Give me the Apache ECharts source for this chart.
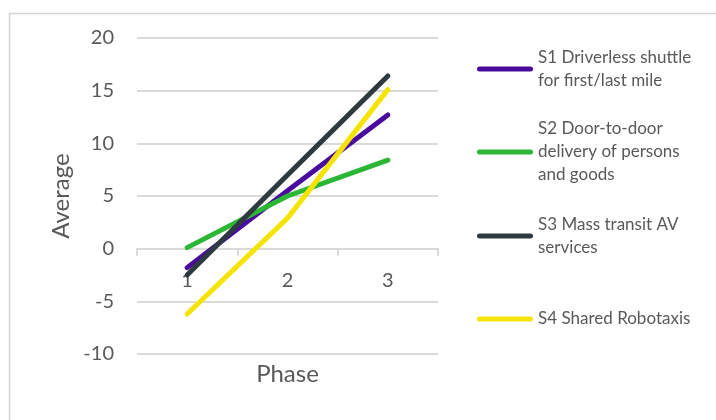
<!DOCTYPE html>
<html>
<head>
<meta charset="utf-8">
<style>
  html, body { margin: 0; padding: 0; background: #ffffff; }
  #chart { width: 716px; height: 420px; }
</style>
<script src="https://cdn.jsdelivr.net/npm/echarts@6/dist/echarts.min.js"></script>
</head>
<body>
<div id="chart"></div>
<script>
// Phase categories on the x axis
const phases = ['1', '2', '3'];

// Average score per phase for each scenario
const s1Values = [-1.8, 5.5, 12.7];
const s2Values = [0.1, 5.0, 8.4];
const s3Values = [-2.5, 7.0, 16.4];
const s4Values = [-6.2, 2.9, 15.1];

// Scenario names and their wrapped legend lines
const seriesNames = [
  'S1 Driverless shuttle for first/last mile',
  'S2 Door-to-door delivery of persons and goods',
  'S3 Mass transit AV services',
  'S4 Shared Robotaxis'
];
const legendLines = [
  ['S1 Driverless shuttle', 'for first/last mile'],
  ['S2 Door-to-door', 'delivery of persons', 'and goods'],
  ['S3 Mass transit AV', 'services'],
  ['S4 Shared Robotaxis']
];

// Value axis ticks
const yMin = -10, yMax = 20, yStep = 5;

const colors = ['#4a0a9e', '#2cb636', '#2f3a40', '#f5e400'];
const allValues = [s1Values, s2Values, s3Values, s4Values];

const FONT = 'Lato, "Open Sans", sans-serif';
const TEXT_COLOR = '#595959';
const GRID_COLOR = '#dadada';
const LINE_H = 23;

// Plot box
const GRID_TOP = 38, GRID_BOTTOM = 66, CHART_H = 420;
const plotH = CHART_H - GRID_TOP - GRID_BOTTOM;
// The category axis sits on the zero line of the value axis
const zeroOffset = -plotH * (0 - yMin) / (yMax - yMin);

// Legend icon centres (first text line) for each entry
const legendCentres = [69, 152, 236, 319];

const legends = seriesNames.map((name, i) => {
  const n = legendLines[i].length;
  const padTop = (n - 1) * LINE_H;
  const boxH = (2 * n - 1) * LINE_H;
  return {
    data: [name],
    orient: 'vertical',
    left: 477,
    top: legendCentres[i] - boxH / 2,
    padding: 0,
    itemWidth: 56,
    itemHeight: 5,
    icon: 'path://M2.5,0 L53.5,0 A2.5,2.5 0 0 1 53.5,5 L2.5,5 A2.5,2.5 0 0 1 2.5,0 Z',
    formatter: () => legendLines[i].join('\n'),
    textStyle: {
      color: TEXT_COLOR,
      fontFamily: FONT,
      fontSize: 17,
      lineHeight: LINE_H,
      padding: [padTop, 0, 0, 0]
    },
    selectedMode: false
  };
});

const chart = echarts.init(document.getElementById('chart'), null, { renderer: 'canvas' });

chart.setOption({
  animation: false,
  backgroundColor: '#ffffff',
  color: colors,
  grid: { left: 137, right: 278, top: GRID_TOP, bottom: GRID_BOTTOM, containLabel: false, outerBoundsMode: 'none' },
  legend: legends,
  graphic: [{
    type: 'rect',
    shape: { x: 9.5, y: 13.5, width: 760, height: 460 },
    style: { fill: null, stroke: '#d4d4d4', lineWidth: 1.5 },
    silent: true,
    z: -10
  }],
  xAxis: {
    type: 'category',
    data: phases,
    boundaryGap: true,
    position: 'bottom',
    offset: zeroOffset,
    name: 'Phase',
    nameLocation: 'middle',
    nameGap: 114,
    nameTextStyle: { color: TEXT_COLOR, fontFamily: FONT, fontSize: 24, verticalAlign: 'top' },
    axisLine: { show: true, onZero: false, lineStyle: { color: GRID_COLOR, width: 2 } },
    axisTick: { show: true, length: 7, alignWithLabel: false, lineStyle: { color: GRID_COLOR, width: 2 } },
    axisLabel: { color: TEXT_COLOR, fontFamily: FONT, fontSize: 20, margin: 22 },
    splitLine: { show: false }
  },
  yAxis: {
    type: 'value',
    min: yMin,
    max: yMax,
    interval: yStep,
    name: 'Average',
    nameLocation: 'middle',
    nameGap: 64,
    nameTextStyle: { color: TEXT_COLOR, fontFamily: FONT, fontSize: 24 },
    axisLine: { show: false },
    axisTick: { show: false },
    axisLabel: { color: TEXT_COLOR, fontFamily: FONT, fontSize: 20, margin: 23 },
    splitLine: { show: true, lineStyle: { color: GRID_COLOR, width: 2 } }
  },
  series: allValues.map((vals, i) => ({
    name: seriesNames[i],
    type: 'line',
    data: vals,
    symbol: 'none',
    showSymbol: false,
    lineStyle: { width: 5, color: colors[i], cap: 'round', join: 'round' },
    itemStyle: { color: colors[i] },
    z: 2 + i
  }))
});
</script>
</body>
</html>
